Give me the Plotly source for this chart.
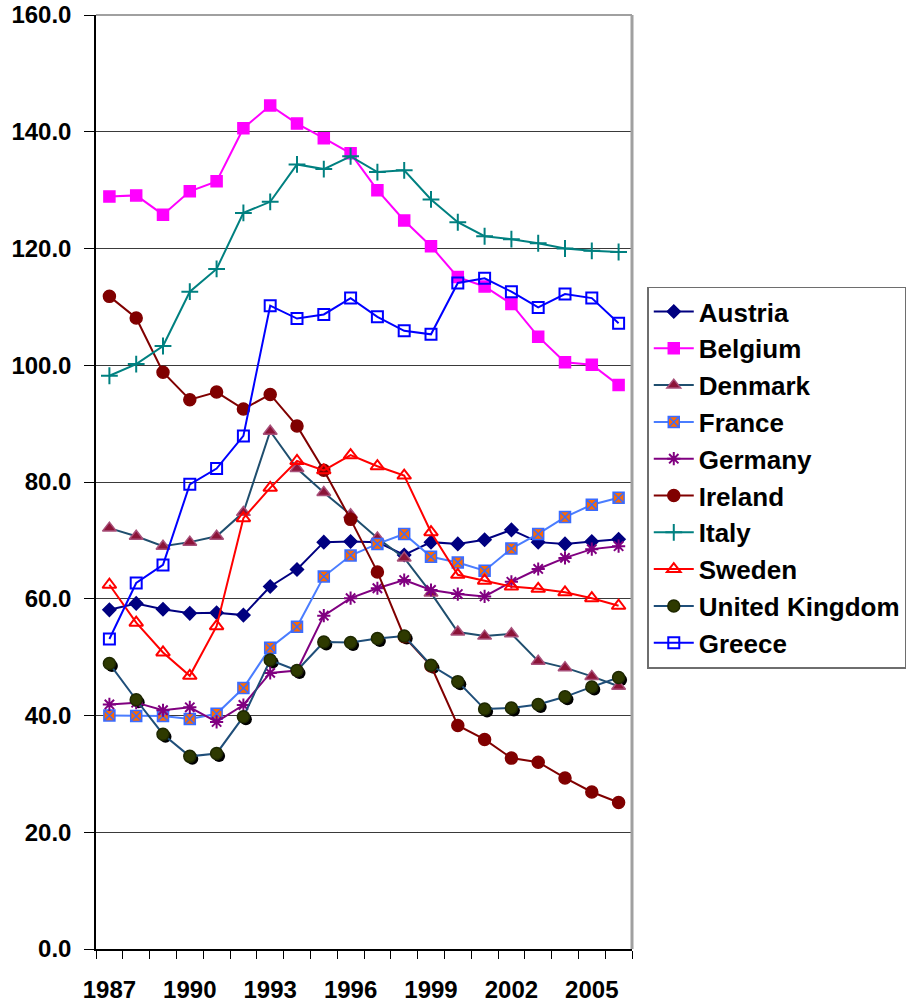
import plotly.graph_objects as go

# General government gross debt, % of GDP
years = list(range(1987, 2007))

austria = [58.1, 59.2, 58.2, 57.5, 57.6, 57.2, 62.1, 65.0, 69.7, 69.8,
           69.7, 67.5, 69.7, 69.4, 70.1, 71.8, 69.7, 69.4, 69.8, 70.2]
belgium = [128.9, 129.1, 125.8, 129.8, 131.5, 140.6, 144.5, 141.4, 138.9, 136.3,
           130.0, 124.8, 120.4, 115.1, 113.5, 110.5, 104.9, 100.5, 100.1, 96.6]
denmark = [72.1, 70.7, 69.0, 69.7, 70.7, 74.8, 88.7, 82.3, 78.2, 74.4,
           70.4, 67.0, 61.0, 54.3, 53.6, 54.0, 49.3, 48.2, 46.7, 45.0]
france = [40.0, 39.9, 39.9, 39.4, 40.3, 44.7, 51.6, 55.2, 63.8, 67.4,
          69.4, 71.1, 67.2, 66.2, 64.8, 68.6, 71.1, 74.0, 76.1, 77.3]
germany = [41.9, 42.2, 40.9, 41.4, 38.9, 41.8, 47.3, 47.7, 57.1, 60.1,
           61.8, 63.2, 61.5, 60.8, 60.4, 62.9, 65.1, 67.0, 68.5, 69.0]
ireland = [111.8, 108.1, 98.8, 94.1, 95.4, 92.5, 95.0, 89.6, 82.0, 73.6,
           64.6, 53.5, 48.5, 38.3, 35.9, 32.7, 32.0, 29.3, 26.9, 25.1]
italy = [98.2, 100.2, 103.3, 112.6, 116.5, 126.1, 128.0, 134.4, 133.6, 135.8,
         133.1, 133.4, 128.4, 124.5, 122.1, 121.6, 120.9, 120.0, 119.6, 119.4]
sweden = [62.4, 55.9, 50.8, 46.8, 55.3, 73.8, 79.0, 83.6, 82.0, 84.6,
          82.7, 81.1, 71.4, 64.1, 63.1, 62.1, 61.7, 61.1, 60.1, 58.8]
united_kingdom = [48.9, 42.7, 36.8, 33.0, 33.5, 39.8, 49.5, 47.7, 52.6, 52.5,
                  53.2, 53.6, 48.6, 45.8, 41.1, 41.3, 41.9, 43.2, 44.9, 46.5]
greece = [53.1, 62.7, 65.8, 79.6, 82.3, 87.9, 110.2, 108.0, 108.7, 111.5,
          108.3, 105.9, 105.3, 114.1, 114.9, 112.6, 109.9, 112.2, 111.5, 107.2]

y_ticks = [0, 20, 40, 60, 80, 100, 120, 140, 160]
x_label_years = [1987, 1990, 1993, 1996, 1999, 2002, 2005]

FONT = "Liberation Sans, Arial, sans-serif"
X_RANGE = [years[0] - 0.5, years[-1] + 0.5]
Y_RANGE = [0, 160]

# (name, values, line colour, marker symbol, marker fill, marker edge, size)
series = [
    ("Austria", austria, "#000080", "diamond", "#000080", "#000080", 10),
    ("Belgium", belgium, "#FF00FF", "square", "#FF00FF", "#FF00FF", 11),
    ("Denmark", denmark, "#1F4E6E", "triangle-up", "#8C1438", "#A8507A", 12),
    ("France", france, "#4A7DFF", "square-x", "#FF6A00", "#3A6BFF", 11),
    ("Germany", germany, "#800080", "asterisk-open", "#800080", "#800080", 11),
    ("Ireland", ireland, "#800000", "circle", "#800000", "#800000", 12),
    ("Italy", italy, "#008080", "cross-thin-open", "#008080", "#008080", 12),
    ("Sweden", sweden, "#FF0000", "triangle-up-open", "#FF0000", "#FF0000", 12),
    ("United Kingdom", united_kingdom, "#1F4E79", "circle", "#2E3A00", "#1E2800", 12),
    ("Greece", greece, "#0000FF", "square-open", "#0000FF", "#0000FF", 11),
]

fig = go.Figure()

# drop shadow under the UK markers: base axes are offset by a couple of pixels
fig.add_trace(go.Scatter(
    x=years, y=united_kingdom, xaxis="x", yaxis="y", mode="markers",
    marker=dict(symbol="circle", size=12, color="#000000"),
    showlegend=False, hoverinfo="skip",
))

for name, vals, lcol, sym, fill, edge, size in series:
    open_sym = sym.endswith("-open")
    fig.add_trace(go.Scatter(
        x=years, y=vals, name=name, mode="lines+markers",
        xaxis="x2", yaxis="y2",
        line=dict(color=lcol, width=2),
        marker=dict(symbol=sym, size=size, color=fill,
                    line=dict(color=edge, width=2 if open_sym else 1.5)),
    ))

px_w, px_h = 536.6, 933.2
shadow_dx = 2.5 * (X_RANGE[1] - X_RANGE[0]) / px_w
shadow_dy = 2.5 * (Y_RANGE[1] - Y_RANGE[0]) / px_h

tick_font = dict(family=FONT, size=24, color="black", weight="bold")

fig.update_layout(
    width=907, height=1006,
    margin=dict(l=96, r=275, t=15, b=57, autoexpand=False),
    paper_bgcolor="white", plot_bgcolor="white",
    font=dict(family=FONT, size=24, color="black", weight="bold"),
    showlegend=True,
    xaxis=dict(range=[X_RANGE[0] - shadow_dx, X_RANGE[1] - shadow_dx],
               visible=False, fixedrange=True),
    yaxis=dict(range=[Y_RANGE[0] + shadow_dy, Y_RANGE[1] + shadow_dy],
               visible=False, fixedrange=True),
    xaxis2=dict(
        overlaying="x", range=X_RANGE, tickmode="array", tickvals=x_label_years,
        ticks="", showgrid=False, zeroline=False,
        showline=True, linecolor="black", linewidth=1.5,
        tickfont=tick_font, ticklabelstandoff=18,
        minor=dict(tickmode="array",
                   tickvals=[y - 0.5 for y in years] + [years[-1] + 0.5],
                   ticks="outside", ticklen=8, tickcolor="black", tickwidth=1,
                   showgrid=False),
    ),
    yaxis2=dict(
        overlaying="y", range=Y_RANGE, tickmode="array", tickvals=y_ticks,
        tickformat=".1f", ticks="outside", ticklen=10, tickcolor="black",
        tickwidth=1, showgrid=True, gridcolor="#3A3A3A", gridwidth=1,
        zeroline=False, showline=True, linecolor="black", linewidth=1.5,
        tickfont=tick_font, ticklabelstandoff=8,
    ),
    legend=dict(
        x=1.0285, y=0.7092, xanchor="left", yanchor="top",
        bgcolor="white", bordercolor="#6E6E6E", borderwidth=1.5,
        font=dict(family=FONT, size=26, color="black", weight="bold"),
        tracegroupgap=0, itemwidth=40,
    ),
    shapes=[
        # grey plot-area frame along the top and right edges
        dict(type="line", xref="paper", yref="paper", x0=0, x1=1, y0=1, y1=1,
             line=dict(color="#A0A0A0", width=2), layer="above"),
        dict(type="line", xref="paper", yref="paper", x0=1, x1=1, y0=0, y1=1,
             line=dict(color="#A0A0A0", width=3), layer="above"),
    ],
)

fig.write_html("out.html")
